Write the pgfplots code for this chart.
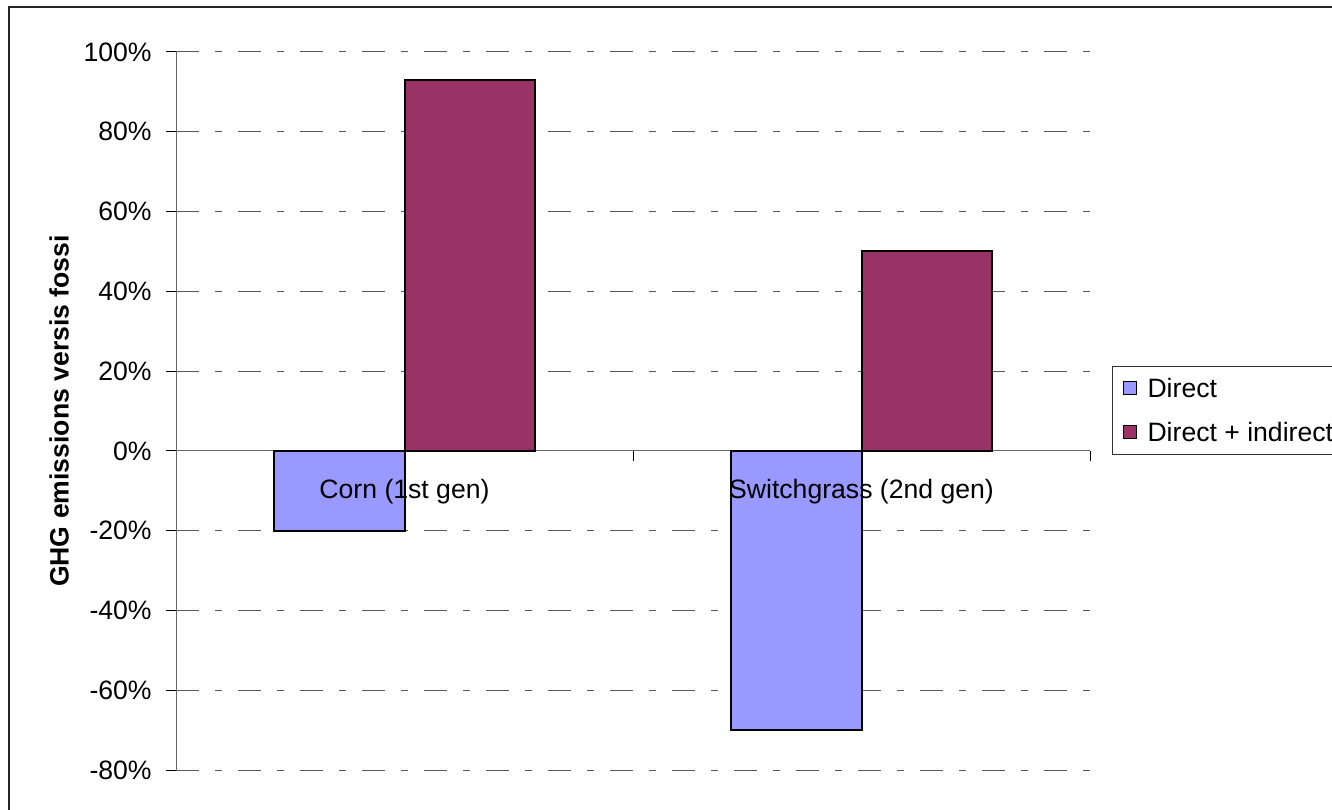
\documentclass[border=0pt]{standalone}
\usepackage{fontspec}
\setmainfont{Liberation Sans}
\usepackage{pgfplots}
\pgfplotsset{compat=1.18}
\definecolor{directc}{HTML}{9999FF}
\definecolor{indirc}{HTML}{993366}
\pgfplotsset{sqlegend/.style={legend image code/.code={%
  \draw[##1, line width=0.5pt] (0pt,-3.25pt) rectangle (6.5pt,3.25pt);}}}
\begin{document}
\fontsize{13.3}{16}\selectfont
\begin{tikzpicture}
\useasboundingbox (0,0) rectangle (666pt,404.5pt);
\clip (0,0) rectangle (666pt,404.5pt);
% chart frame
\draw[black!85, line width=0.9pt] (4.5pt,-5pt) -- (4.5pt,401pt) -- (700pt,401pt);
\begin{axis}[
  at={(88pt,19.5pt)}, anchor=south west,
  scale only axis, width=457pt, height=359pt,
  xmin=-0.5, xmax=1.5, ymin=-80, ymax=100,
  axis x line=middle, axis y line=left,
  axis line style={-, black!60, line width=0.5pt},
  hide obscured x ticks=false, hide obscured y ticks=false,
  xtick={-0.5,0.5,1.5}, xticklabels={},
  ytick={-80,-60,...,100},
  yticklabels={-80\%,-60\%,-40\%,-20\%,0\%,20\%,40\%,60\%,80\%,100\%},
  yticklabel style={anchor=east, inner xsep=0pt, xshift=-7pt},
  tick align=outside, major tick length=5pt,
  tick style={black, line width=0.5pt},
  ymajorgrids,
  grid style={black!65, line width=0.5pt, dash pattern=on 11.5pt off 8pt on 3.5pt off 8pt},
  ybar=0pt, bar width=0.2845,
  every axis y label/.style={at={(axis description cs:-0.128,0.5)}, rotate=90, anchor=center},
  ylabel={\bfseries GHG emissions versis fossi},
  legend style={at={(axis description cs:1.0241,0.5627)}, anchor=north west,
    draw=black!80, line width=0.5pt, inner xsep=5pt, inner ysep=6.25pt,
    /tikz/row sep=12.5pt, /tikz/column sep=5.5pt,
    cells={anchor=west},
    nodes={text height=9.5pt, text depth=0pt, inner ysep=0pt, inner xsep=0pt}},
]
\addplot[fill=directc, draw=black, line width=1pt, sqlegend]
  coordinates {(0,-20) (1,-70)};
\addplot[fill=indirc, draw=black, line width=1pt, sqlegend]
  coordinates {(0,93) (1,50)};
\legend{Direct, Direct + indirect}
% category names, set over the bars
\node at (axis cs:0,0) [yshift=-20.5pt] {Corn (1st gen)};
\node at (axis cs:1,0) [yshift=-20.5pt] {Switchgrass (2nd gen)};
\end{axis}
\end{tikzpicture}
\end{document}
